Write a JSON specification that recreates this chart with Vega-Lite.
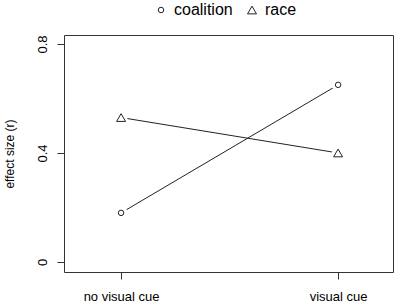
{
  "$schema": "https://vega.github.io/schema/vega-lite/v6.json",
  "width": 329,
  "height": 237,
  "autosize": {"type": "none"},
  "padding": {"left": 64, "top": 35, "right": 4, "bottom": 32},
  "background": "white",
  "config": {
    "view": {"stroke": "#333", "strokeWidth": 1},
    "font": "Liberation Sans",
    "axis": {"grid": false, "domain": false, "tickColor": "#333", "tickSize": 7, "labelColor": "black", "labelFontSize": 13, "labelFont": "Liberation Sans", "titleFont": "Liberation Sans", "titleFontWeight": "normal", "titleColor": "black"}
  },
  "data": {"values": [
    {"x": 1, "group": "coalition", "value": 0.18},
    {"x": 2, "group": "coalition", "value": 0.65},
    {"x": 1, "group": "race", "value": 0.53},
    {"x": 2, "group": "race", "value": 0.40}
  ]},
  "encoding": {
    "x": {"field": "x", "type": "quantitative", "scale": {"domain": [0.737, 2.253], "nice": false, "zero": false},
      "axis": {"values": [1, 2], "labelExpr": "datum.value == 1 ? 'no visual cue' : 'visual cue'", "title": null, "labelPadding": 11, "labelFontSize": 13}},
    "y": {"field": "value", "type": "quantitative", "scale": {"domain": [-0.037, 0.833], "nice": false, "zero": false},
      "axis": {"values": [0, 0.4, 0.8], "labelExpr": "datum.value == 0 ? '0' : format(datum.value, '.1f')", "labelAngle": -90, "labelAlign": "center", "labelBaseline": "bottom", "labelPadding": 8, "title": "effect size (r)", "titleFontSize": 12, "titlePadding": 20}}
  },
  "layer": [
    {"mark": {"type": "line", "color": "#222", "strokeWidth": 1}, "encoding": {"detail": {"field": "group"}}},
    {"mark": {"type": "point", "filled": true, "color": "white", "size": 170, "opacity": 1}, "encoding": {"detail": {"field": "group"}}},
    {"mark": {"type": "point", "filled": false, "color": "#222", "strokeWidth": 1, "opacity": 1},
      "encoding": {
        "shape": {"field": "group", "type": "nominal", "scale": {"domain": ["coalition", "race"], "range": ["circle", "triangle-up"]},
          "legend": {"title": null, "orient": "none", "legendX": 89, "legendY": -33, "direction": "horizontal", "labelFontSize": 16, "labelColor": "black", "symbolStrokeColor": "#222", "symbolStrokeWidth": 1, "symbolFillColor": "white", "columnPadding": 11, "labelOffset": 5}},
        "size": {"field": "group", "type": "nominal", "scale": {"domain": ["coalition", "race"], "range": [30, 80]},
          "legend": {"title": null, "orient": "none", "legendX": 89, "legendY": -33, "direction": "horizontal", "labelFontSize": 16, "labelColor": "black", "symbolStrokeColor": "#222", "symbolStrokeWidth": 1, "symbolFillColor": "white", "columnPadding": 11, "labelOffset": 5}}
      }}
  ]
}
